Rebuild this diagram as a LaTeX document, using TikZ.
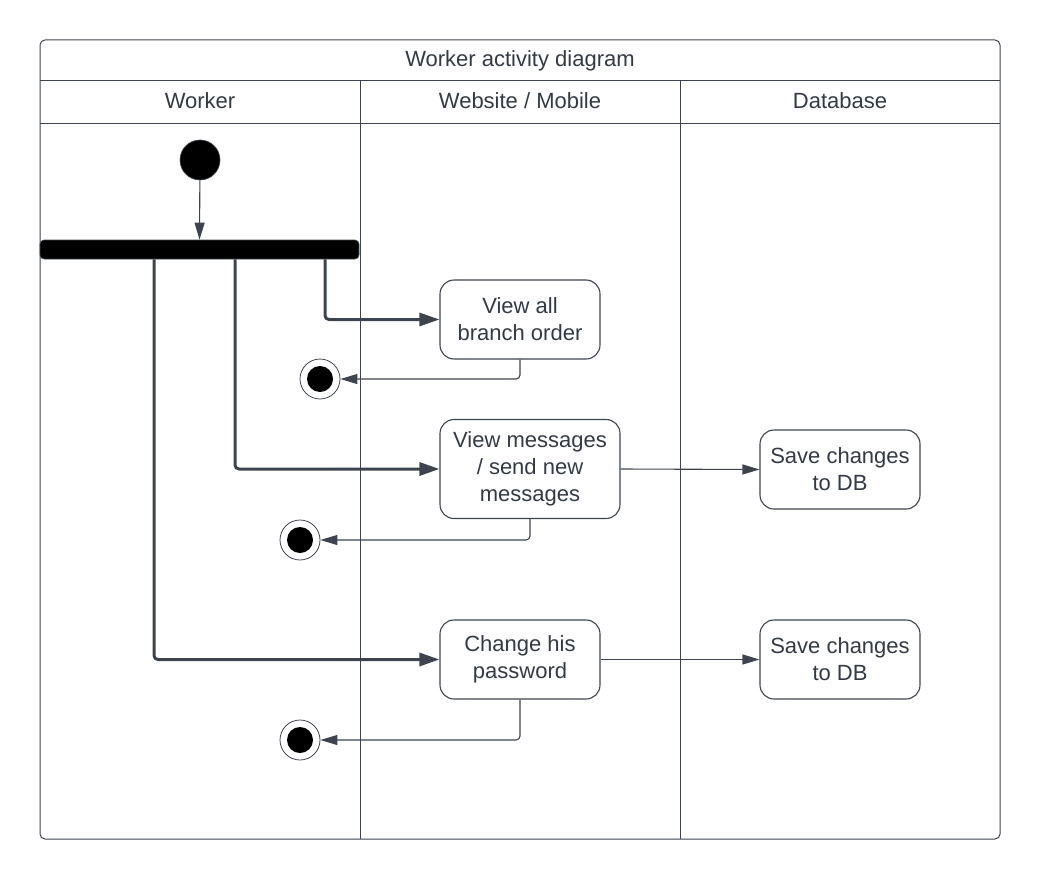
\documentclass[tikz,border=0pt]{standalone}
\usepackage{fontspec}
\setmainfont{Liberation Sans}
\usetikzlibrary{arrows.meta}
\definecolor{ink}{HTML}{333A44}
\definecolor{edge}{HTML}{3D444E}
\begin{document}
\begin{tikzpicture}[x=1pt,y=-1pt,
  txt/.style={text=ink,font=\fontsize{22}{27}\selectfont,align=center,inner sep=0pt},
  act/.style={txt,draw=edge,line width=1.1pt,rounded corners=14pt,minimum width=160pt,minimum height=79pt},
  forkbar/.style={fill=black,draw=edge,line width=0.6pt,rounded corners=4pt,minimum width=319pt,minimum height=19pt,inner sep=0pt},
  startnode/.style={circle,fill=black,draw=edge,line width=0.6pt,minimum size=40pt,inner sep=0pt},
  endnode/.style={circle,draw=edge,line width=0.8pt,minimum size=40pt,inner sep=0pt,
     path picture={\fill[black] (path picture bounding box.center) circle (13);}},
  thinarrow/.style={draw=edge,line width=1.1pt,-{Triangle[length=17pt,width=10pt]},rounded corners=4pt},
  thickarrow/.style={draw=edge,line width=3pt,-{Triangle[length=20pt,width=13pt]},rounded corners=4pt},
  frame/.style={draw=edge,line width=1pt}]
\useasboundingbox (0,0) rectangle (1040,880);
% frame
\draw[frame,rounded corners=5pt] (40,40) rectangle (1000,839);
\draw[frame] (40,81) -- (1000,81);
\draw[frame] (40,123) -- (1000,123);
\draw[frame] (360,81) -- (360,839);
\draw[frame] (680,81) -- (680,839);
\node[txt] (title) at (520,60.5) {Worker activity diagram};
\node[txt] (h1) at (200,101) {Worker};
\node[txt] (h2) at (520,101) {Website / Mobile};
\node[txt] (h3) at (840,101) {Database};
% nodes
\node[startnode] (start) at (200,160) {};
\node[forkbar] (bar) at (199.5,249.5) {};
\node[act] (a1) at (520,319.5) {View all\\branch order};
\node[act,minimum width=180pt,minimum height=99pt] (a2) at (530,469) {View messages\\/ send new\\messages};
\node[act] (s1) at (840,469.5) {Save changes\\to DB};
\node[act] (a3) at (520,659.5) {Change his\\password};
\node[act] (s2) at (840,659.5) {Save changes\\to DB};
\node[endnode] (f1) at (320,379) {};
\node[endnode] (f2) at (300,540) {};
\node[endnode] (f3) at (300,740) {};
% connectors
\draw[thinarrow] (start) -- (bar.north);
\draw[thickarrow] ([xshift=125.5pt]bar.south) |- (a1.west);
\draw[thickarrow] ([xshift=35.5pt]bar.south) |- (a2.west);
\draw[thickarrow] ([xshift=-45.5pt]bar.south) |- (a3.west);
\draw[thinarrow] (a1.south) |- (f1.east);
\draw[thinarrow] (a2.south) |- (f2.east);
\draw[thinarrow] (a3.south) |- (f3.east);
\draw[thinarrow] (a2.east) -- (s1.west);
\draw[thinarrow] (a3.east) -- (s2.west);
\end{tikzpicture}
\end{document}
